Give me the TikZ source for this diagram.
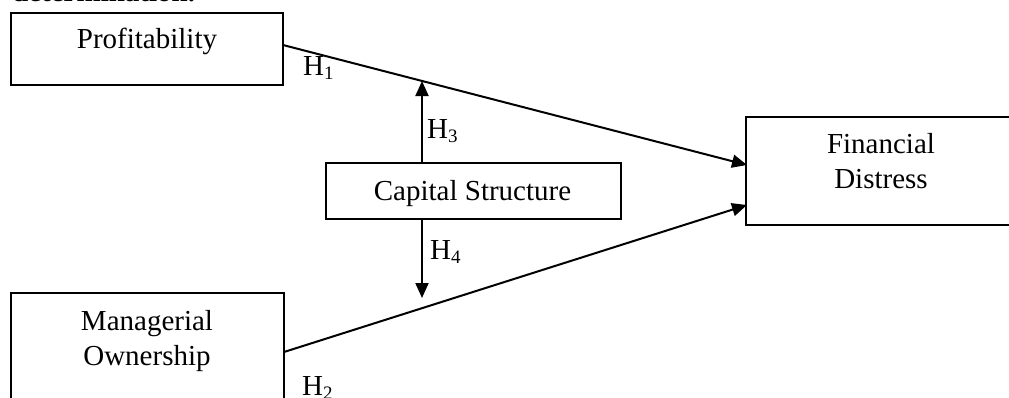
\documentclass[tikz,border=0pt]{standalone}
\usepackage{fontspec}
\setmainfont{Liberation Serif}
\usetikzlibrary{arrows.meta}
\newcommand{\hyp}[1]{H\raisebox{-0.35ex}{\fontsize{19}{19}\selectfont #1}}
\begin{document}
\begin{tikzpicture}[x=1pt,y=-1pt,
  box/.style={draw, line width=2.3pt, inner sep=0pt},
  txt/.style={font=\fontsize{29}{35}\selectfont, inner sep=0pt, align=center},
  conn/.style={line width=2pt, -{Triangle[length=15pt,width=13pt]}},
  hl/.style={font=\fontsize{29}{35}\selectfont, inner sep=0pt}]
\useasboundingbox (0,0) rectangle (1009,397);
\clip (0,0) rectangle (1009,397);
% cut-off heading
\node[anchor=base west, inner sep=0pt, font=\fontsize{29}{35}\selectfont\bfseries] (head) at (12,1.5) {determination.};
% boxes
\node[box, minimum width=272pt, minimum height=72pt] (prof) at (147,49) {};
\node[box, minimum width=295pt, minimum height=56pt] (cap) at (473.5,191) {};
\node[box, minimum width=280pt, minimum height=108pt] (fin) at (886,171) {};
\node[box, minimum width=273pt, minimum height=140pt] (man) at (147.5,363) {};
% texts
\node[txt] (proft) at (147,41) {Profitability};
\node[txt] (capt) at (472.5,194) {Capital Structure};
\node[txt] (fint) at (881,161) {Financial\\Distress};
\node[txt] (mant) at (147,341) {Managerial\\Ownership};
% connectors
\coordinate (p1) at (283,45);
\coordinate (f1) at (747,165);
\coordinate (m1) at (284,352);
\coordinate (f2) at (747,205);
\draw[conn] (p1) -- (f1);
\draw[conn] (m1) -- (f2);
\coordinate (h3s) at (422,163);
\coordinate (h3e) at (422,81);
\coordinate (h4s) at (422,219);
\coordinate (h4e) at (422,298);
\draw[conn] (h3s) -- (h3e);
\draw[conn] (h4s) -- (h4e);
% labels
\node[hl, anchor=base west] (l1) at (303,75) {\hyp{1}};
\node[hl, anchor=base west] (l3) at (427,138) {\hyp{3}};
\node[hl, anchor=base west] (l4) at (430,259) {\hyp{4}};
\node[hl, anchor=base west] (l2) at (302,395) {\hyp{2}};
\end{tikzpicture}
\end{document}
